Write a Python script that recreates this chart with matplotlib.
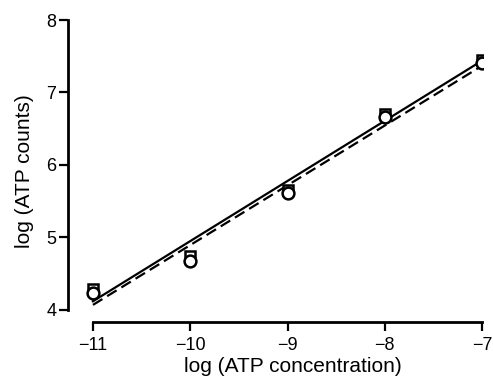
import matplotlib
matplotlib.use("Agg")
import matplotlib.pyplot as plt
import numpy as np

plt.rcParams['font.family'] = ['Liberation Sans', 'DejaVu Sans']

log_conc = [-11, -10, -9, -8, -7]
counts_square = [4.29, 4.74, 5.65, 6.70, 7.45]
counts_circle = [4.23, 4.68, 5.61, 6.66, 7.41]
fit_solid = [4.12, 7.44]
fit_dashed = [4.07, 7.37]
fit_x = [-11, -7]
xticks = [-11, -10, -9, -8, -7]
yticks = [4, 5, 6, 7, 8]

fig = plt.figure(figsize=(4.93, 3.76), dpi=100)
ax = fig.add_axes([0.138, 0.1436, 0.842, 0.8032])

ax.plot(fit_x, fit_solid, color='black', lw=1.6, zorder=2)
ax.plot(fit_x, fit_dashed, color='black', lw=1.6, ls=(0, (5, 2.5)), zorder=2)
ax.plot(log_conc, counts_square, ls='none', marker='s', ms=7.5, mfc='white',
        mec='black', mew=1.8, zorder=3)
ax.plot(log_conc, counts_circle, ls='none', marker='o', ms=8.5, mfc='white',
        mec='black', mew=1.8, zorder=4)

ax.set_xlim(-11.256, -6.99)
ax.set_ylim(3.834, 8.0)
ax.spines['top'].set_visible(False)
ax.spines['right'].set_visible(False)
ax.spines['left'].set_bounds(4, 8)
ax.spines['bottom'].set_bounds(-11, -7)
for s in ('left', 'bottom'):
    ax.spines[s].set_linewidth(2)
ax.set_xticks(xticks)
ax.set_yticks(yticks)
ax.set_xticklabels(['\u2212' + str(abs(v)) for v in xticks])
ax.tick_params(width=1.6, length=6.5, labelsize=13, pad=2)
ax.tick_params(axis='x', pad=4)
ax.set_xlabel('log (ATP concentration)', fontsize=15)
ax.set_ylabel('log (ATP counts)', fontsize=15)
ax.xaxis.set_label_coords(0.542, -0.117)
ax.yaxis.set_label_coords(-0.082, 0.5)

fig.savefig('out.png', dpi=100)
